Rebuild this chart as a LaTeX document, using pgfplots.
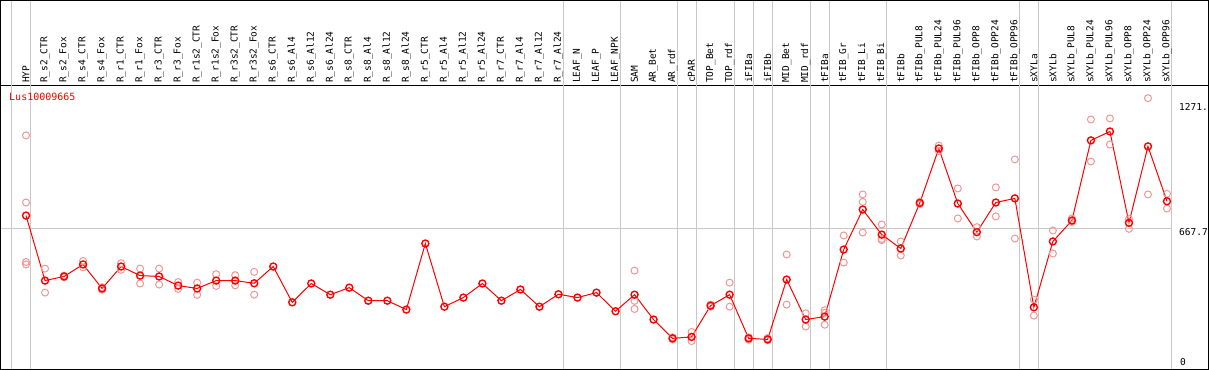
\documentclass[border=0pt]{standalone}
\usepackage{pgfplots}
\pgfplotsset{compat=1.18}
\usepackage{pgfplotstable}
\usepackage{fontspec}
\setmainfont{DejaVu Sans Mono}
\definecolor{meanred}{RGB}{255,0,0}
\definecolor{reppink}{RGB}{240,150,150}
\definecolor{gridgray}{RGB}{200,200,200}

\pgfplotstableread{
k v
0 728
1 414
2 434
3 492
4 376
5 482
6 438
7 434
8 390
9 376
10 414
11 414
12 401
13 482
14 309
15 400
16 346
17 380
18 317
19 317
20 274
21 593
22 288
23 332
24 400
25 317
26 371
27 288
28 348
29 332
30 356
31 266
32 346
33 226
34 135
35 142
36 293
37 346
38 135
39 130
40 419
41 226
42 240
43 564
44 757
45 636
46 569
47 789
48 1052
49 786
50 648
51 791
52 811
53 285
54 603
55 704
56 1091
57 1134
58 693
59 1062
60 797
}\means

\pgfplotstableread{
k v
0 1115
0 791
0 504
0 492
1 472
1 356
2 438
2 430
3 509
3 478
4 382
4 370
5 498
5 466
6 472
6 400
7 472
7 395
8 407
8 374
9 404
9 345
10 445
10 388
11 440
11 391
12 456
12 346
32 462
32 316
32 277
34 140
34 130
35 166
35 122
36 298
36 288
37 404
37 288
38 140
38 128
39 136
39 126
40 540
40 298
41 256
41 192
42 271
42 258
42 201
43 632
43 501
44 830
44 794
44 646
45 685
45 615
45 609
46 603
46 535
47 794
47 783
48 1066
48 1040
49 859
49 714
50 672
50 627
51 864
51 724
52 999
52 617
53 322
53 245
54 656
54 545
55 714
55 697
56 1192
56 989
57 1197
57 1071
58 711
58 664
59 1295
59 830
60 833
60 762
}\reps

\begin{document}
\begin{tikzpicture}
% header box
\begin{axis}[
  at={(0,284pt)}, anchor=south west,
  scale only axis, width=1207pt, height=84.5pt,
  xmin=-1.3421, xmax=62.184, ymin=0, ymax=1,
  axis line style={black, line width=1pt},
  xtick={-0.75,0.25,28.25,31.25,34.25,35.25,37.25,38.25,39.25,41.25,42.25,45.25,52.25,53.25,60.25},
  xticklabels={}, ytick=\empty, major tick length=0pt,
  xmajorgrids, major grid style={gridgray, line width=1pt},
]
\end{axis}
% data area
\begin{axis}[
  at={(0,0)}, anchor=south west,
  scale only axis, width=1207pt, height=284pt,
  xmin=-1.3421, xmax=62.184, ymin=-14.5, ymax=1358.1,
  axis line style={black, line width=1pt},
  clip=false,
  xtick={0,...,60},
  xticklabels={HYP,R\_s2\_CTR,R\_s2\_Fox,R\_s4\_CTR,R\_s4\_Fox,R\_r1\_CTR,R\_r1\_Fox,R\_r3\_CTR,R\_r3\_Fox,R\_r1s2\_CTR,R\_r1s2\_Fox,R\_r3s2\_CTR,R\_r3s2\_Fox,R\_s6\_CTR,R\_s6\_Al4,R\_s6\_Al12,R\_s6\_Al24,R\_s8\_CTR,R\_s8\_Al4,R\_s8\_Al12,R\_s8\_Al24,R\_r5\_CTR,R\_r5\_Al4,R\_r5\_Al12,R\_r5\_Al24,R\_r7\_CTR,R\_r7\_Al4,R\_r7\_Al12,R\_r7\_Al24,LEAF\_N,LEAF\_P,LEAF\_NPK,SAM,AR\_Bet,AR\_rdf,cPAR,TOP\_Bet,TOP\_rdf,iFIBa,iFIBb,MID\_Bet,MID\_rdf,tFIBa,tFIB\_Gr,tFIB\_Li,tFIB\_Bi,tFIBb,tFIBb\_PUL8,tFIBb\_PUL24,tFIBb\_PUL96,tFIBb\_OPP8,tFIBb\_OPP24,tFIBb\_OPP96,sXYLa,sXYLb,sXYLb\_PUL8,sXYLb\_PUL24,sXYLb\_PUL96,sXYLb\_OPP8,sXYLb\_OPP24,sXYLb\_OPP96},
  xticklabel pos=upper,
  xticklabel shift=2pt,
  xticklabel style={rotate=90, anchor=west, inner sep=0pt, font=\fontsize{9.5}{10}\selectfont},
  ytick=\empty, major tick length=0pt,
  extra x ticks={-0.75,0.25,28.25,31.25,34.25,35.25,37.25,38.25,39.25,41.25,42.25,45.25,52.25,53.25,60.25},
  extra x tick labels={},
  extra x tick style={grid=major, major grid style={gridgray, line width=1pt}},
]
\draw[gridgray, line width=1pt] (axis cs:-1.3421,667.7) -- (axis cs:60.25,667.7);
\addplot[only marks, mark=o, mark size=3.5pt, reppink, mark options={line width=1pt}] table[x=k, y=v] {\reps};
\addplot[meanred, line width=1pt, mark=o, mark size=3.5pt, mark options={line width=1.4pt}] table[x=k, y=v] {\means};
\node[anchor=west, inner sep=0pt, text=meanred, font=\fontsize{10}{11}\selectfont] at (axis cs:-0.895,1300.1) {Lus10009665};
\node[anchor=west, inner sep=0pt, font=\fontsize{9.5}{10}\selectfont] at (axis cs:60.63,1251.8) {1271.};
\node[anchor=west, inner sep=0pt, font=\fontsize{9.5}{10}\selectfont] at (axis cs:60.63,646.7) {667.7};
\node[anchor=west, inner sep=0pt, font=\fontsize{9.5}{10}\selectfont] at (axis cs:60.68,19.3) {0};
\end{axis}
\end{tikzpicture}
\end{document}
